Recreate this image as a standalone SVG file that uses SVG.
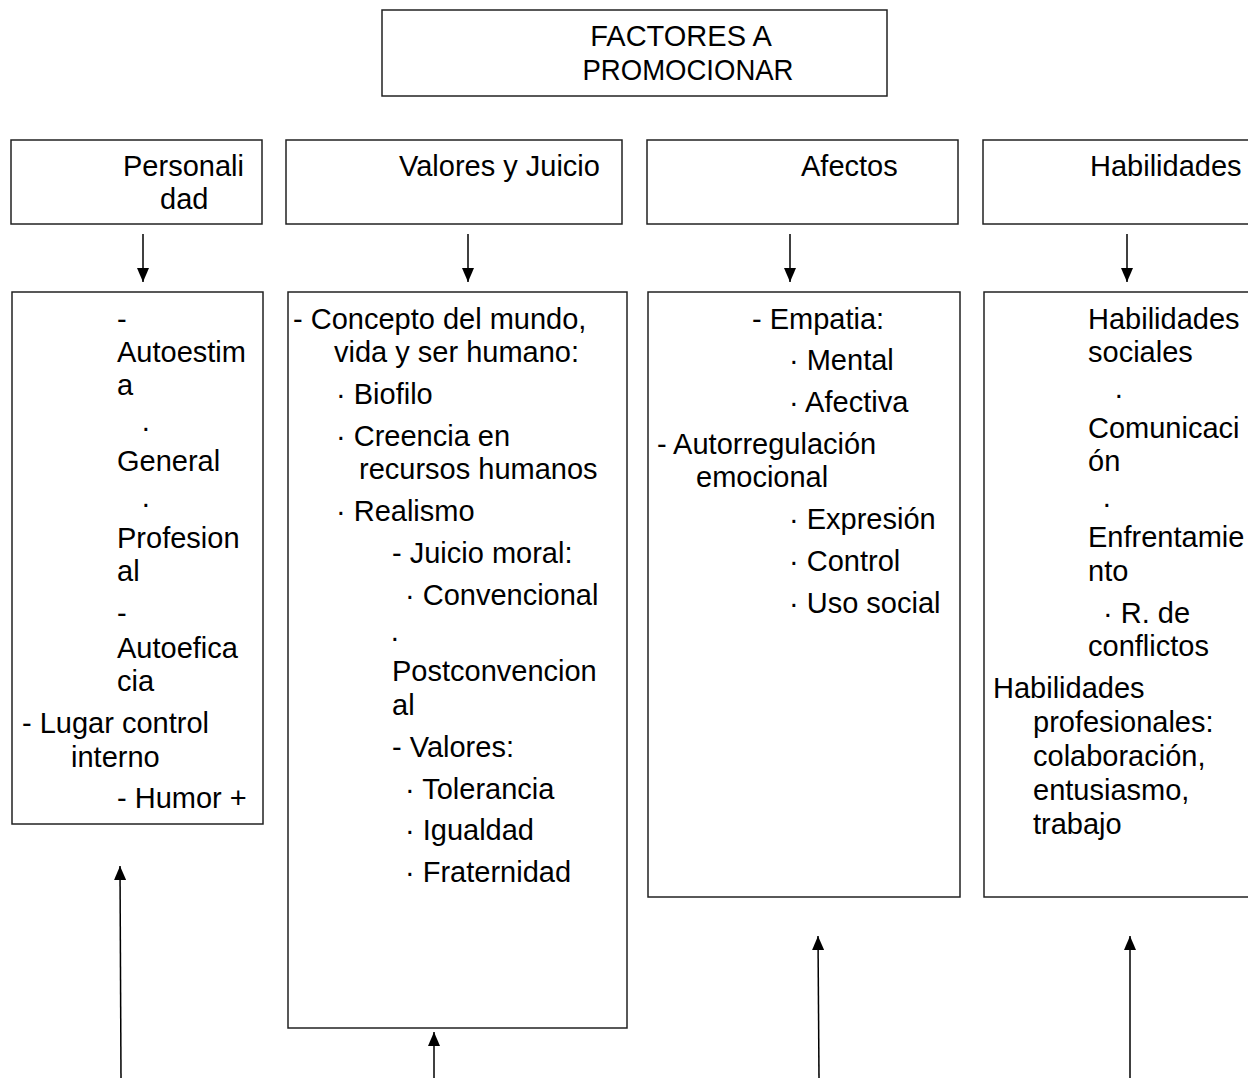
<svg xmlns="http://www.w3.org/2000/svg" width="1248" height="1078" viewBox="0 0 1248 1078">
<style>
.box{fill:#fff;stroke:#222;stroke-width:1.5}
.t{font-family:"Liberation Sans",Arial,sans-serif;font-size:29px;fill:#000}
.c{stroke:#000;stroke-width:1.5;fill:none}
</style>
<defs>
<marker id="ah" viewBox="0 0 14 12" refX="14" refY="6" markerWidth="14" markerHeight="12" markerUnits="userSpaceOnUse" orient="auto">
<path d="M0,0 L14,6 L0,12 Z" fill="#000"/>
</marker>
</defs>
<rect width="1248" height="1078" fill="#fff"/>
<g id="top">
<rect class="box" x="382" y="10" width="505" height="86"/>
<text class="t" x="681" y="46" text-anchor="middle">FACTORES A</text>
<text class="t" x="688" y="80" text-anchor="middle" textLength="211" lengthAdjust="spacingAndGlyphs">PROMOCIONAR</text>
</g>
<g id="h-personalidad">
<rect class="box" x="11" y="140" width="251" height="84"/>
<text class="t" x="123" y="176">Personali</text>
<text class="t" x="160" y="209">dad</text>
</g>
<g id="h-valores">
<rect class="box" x="286" y="140" width="336" height="84"/>
<text class="t" x="399" y="176">Valores y Juicio</text>
</g>
<g id="h-afectos">
<rect class="box" x="647" y="140" width="311" height="84"/>
<text class="t" x="801" y="176">Afectos</text>
</g>
<g id="h-habilidades">
<rect class="box" x="983" y="140" width="280" height="84"/>
<text class="t" x="1090" y="176">Habilidades</text>
</g>
<g id="c-personalidad">
<rect class="box" x="12" y="292" width="251" height="532"/>
<text class="t" x="117" y="329">-</text>
<text class="t" x="117" y="362">Autoestim</text>
<text class="t" x="117" y="395">a</text>
<text class="t" x="141" y="437">·</text>
<text class="t" x="117" y="471">General</text>
<text class="t" x="141" y="513">·</text>
<text class="t" x="117" y="548">Profesion</text>
<text class="t" x="117" y="581">al</text>
<text class="t" x="117" y="623">-</text>
<text class="t" x="117" y="658">Autoefica</text>
<text class="t" x="117" y="691">cia</text>
<text class="t" x="22" y="733">- Lugar control</text>
<text class="t" x="71" y="767">interno</text>
<text class="t" x="117" y="808">- Humor +</text>
</g>
<g id="c-valores">
<rect class="box" x="288" y="292" width="339" height="736"/>
<text class="t" x="293" y="329">- Concepto del mundo,</text>
<text class="t" x="334" y="362">vida y ser humano:</text>
<text class="t" x="336" y="404">· Biofilo</text>
<text class="t" x="336" y="446">· Creencia en</text>
<text class="t" x="359" y="479">recursos humanos</text>
<text class="t" x="336" y="521">· Realismo</text>
<text class="t" x="392" y="563">- Juicio moral:</text>
<text class="t" x="405" y="605">· Convencional</text>
<text class="t" x="390" y="647">·</text>
<text class="t" x="392" y="681">Postconvencion</text>
<text class="t" x="392" y="715">al</text>
<text class="t" x="392" y="757">- Valores:</text>
<text class="t" x="405" y="799">· Tolerancia</text>
<text class="t" x="405" y="840">· Igualdad</text>
<text class="t" x="405" y="882">· Fraternidad</text>
</g>
<g id="c-afectos">
<rect class="box" x="648" y="292" width="312" height="605"/>
<text class="t" x="752" y="329">- Empatia:</text>
<text class="t" x="789" y="370">· Mental</text>
<text class="t" x="789" y="412">· Afectiva</text>
<text class="t" x="657" y="454">- Autorregulación</text>
<text class="t" x="696" y="487">emocional</text>
<text class="t" x="789" y="529">· Expresión</text>
<text class="t" x="789" y="571">· Control</text>
<text class="t" x="789" y="613">· Uso social</text>
</g>
<g id="c-habilidades">
<rect class="box" x="984" y="292" width="280" height="605"/>
<text class="t" x="1088" y="329">Habilidades</text>
<text class="t" x="1088" y="362">sociales</text>
<text class="t" x="1114" y="404">·</text>
<text class="t" x="1088" y="438">Comunicaci</text>
<text class="t" x="1088" y="471">ón</text>
<text class="t" x="1102" y="513">·</text>
<text class="t" x="1088" y="547">Enfrentamie</text>
<text class="t" x="1088" y="581">nto</text>
<text class="t" x="1103" y="623">· R. de</text>
<text class="t" x="1088" y="656">conflictos</text>
<text class="t" x="993" y="698">Habilidades</text>
<text class="t" x="1033" y="732">profesionales:</text>
<text class="t" x="1033" y="766">colaboración,</text>
<text class="t" x="1033" y="800">entusiasmo,</text>
<text class="t" x="1033" y="834">trabajo</text>
</g>
<g id="connectors">
<line class="c" x1="143" y1="234" x2="143" y2="282" marker-end="url(#ah)"/>
<line class="c" x1="468" y1="234" x2="468" y2="282" marker-end="url(#ah)"/>
<line class="c" x1="790" y1="234" x2="790" y2="282" marker-end="url(#ah)"/>
<line class="c" x1="1127" y1="234" x2="1127" y2="282" marker-end="url(#ah)"/>
<line class="c" x1="121" y1="1078" x2="120" y2="866" marker-end="url(#ah)"/>
<line class="c" x1="434" y1="1078" x2="434" y2="1032" marker-end="url(#ah)"/>
<line class="c" x1="819" y1="1078" x2="818" y2="936" marker-end="url(#ah)"/>
<line class="c" x1="1130" y1="1078" x2="1130" y2="936" marker-end="url(#ah)"/>
</g>
</svg>
